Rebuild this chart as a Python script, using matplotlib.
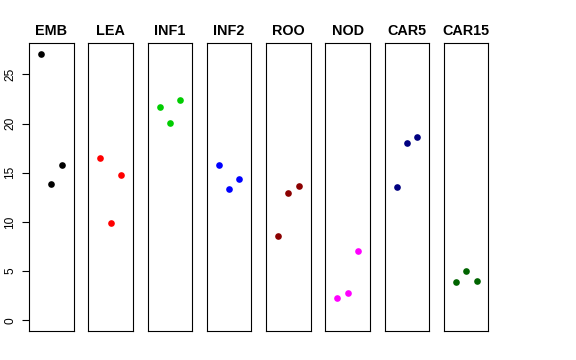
import matplotlib
matplotlib.use("Agg")
import matplotlib.pyplot as plt

plt.rcParams['font.family'] = ['Liberation Sans', 'DejaVu Sans']

tissues = ['EMB', 'LEA', 'INF1', 'INF2', 'ROO', 'NOD', 'CAR5', 'CAR15']
colors = ['black', 'red', '#00CD00', 'blue', '#8B0000', 'magenta', '#000080', '#006400']
# three replicates per tissue, plotted at x = 1, 2, 3
reps = [1, 2, 3]
emb = [27.1, 13.9, 15.8]
lea = [16.5, 9.9, 14.8]
inf1 = [21.7, 20.05, 22.4]
inf2 = [15.8, 13.3, 14.4]
roo = [8.6, 12.9, 13.65]
nod = [2.27, 2.8, 7.04]
car5 = [13.6, 18.0, 18.6]
car15 = [3.9, 5.04, 3.96]
values = [emb, lea, inf1, inf2, roo, nod, car5, car15]

ymax = max(max(v) for v in values)
ypad = 0.04 * ymax

fig, axes = plt.subplots(1, 8, sharey=True, figsize=(5.76, 3.6), dpi=100)
fig.subplots_adjust(left=29/576, right=488.5/576, top=1-43/360, bottom=1-331/360, wspace=0.327)

for i, ax in enumerate(axes):
    ax.plot(reps, values[i], 'o', color=colors[i], markersize=4.8, markeredgewidth=0)
    ax.set_xlim(-0.16, 4.16)
    ax.set_ylim(-ypad, ymax + ypad)
    ax.set_xticks([])
    ax.set_title(tissues[i], fontsize=10.4, fontweight='bold', pad=6)
    for s in ax.spines.values():
        s.set_linewidth(0.8)
    if i > 0:
        ax.tick_params(left=False, labelleft=False)

axes[0].set_yticks([0, 5, 10, 15, 20, 25])
axes[0].tick_params(axis='y', length=5.2, width=0.8, labelsize=8.6, pad=4)
for lab in axes[0].get_yticklabels():
    lab.set_rotation(90)
    lab.set_va('center')

fig.savefig('out.png', dpi=100)
